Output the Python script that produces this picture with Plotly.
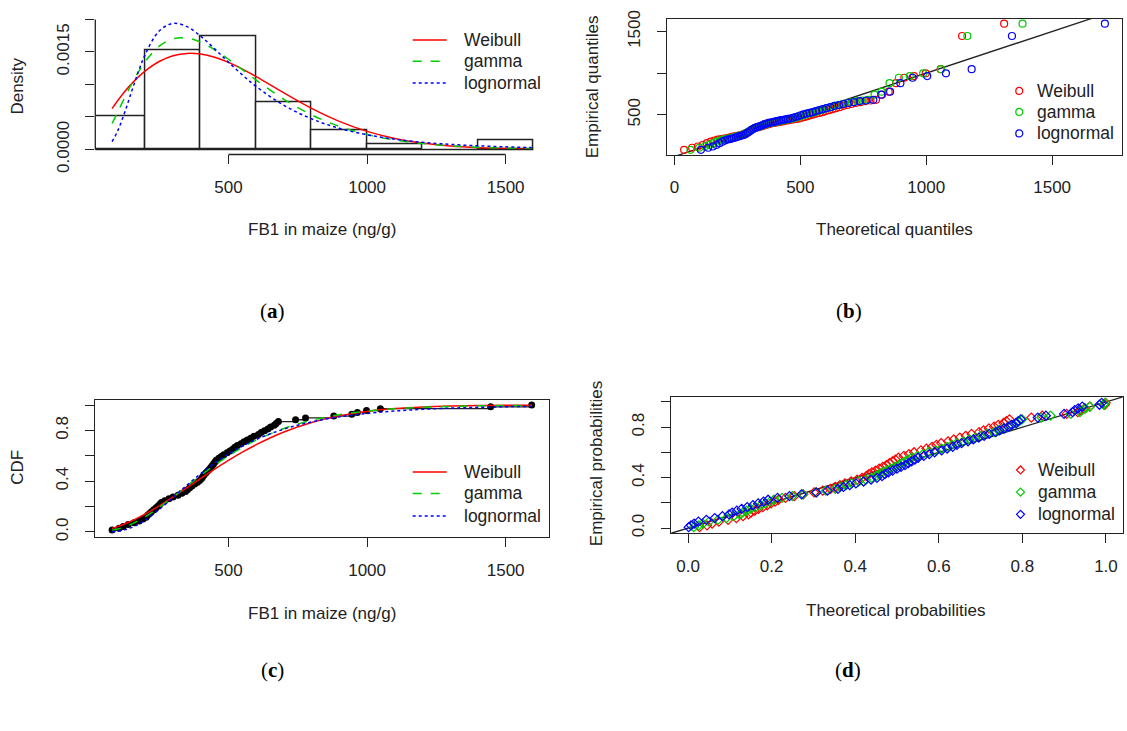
import plotly.graph_objects as go

W, H = 1127, 731
FONT = "Liberation Sans, Arial, sans-serif"
TXT = "#222222"
RED, GREEN, BLUE = "#FF0000", "#00CD00", "#0000FF"

# ---------------- data ----------------
fb1 = [80, 105, 120, 138, 160, 178, 192,
       203, 208, 215, 222, 230, 238, 245, 252, 258, 270, 285, 300, 318, 332, 345, 352, 360, 368, 378, 388, 396,
       403, 407, 412, 418, 424, 430, 436, 441, 446, 451, 456, 465, 474, 483, 495, 505, 515, 523, 532, 545, 556,
       568, 580, 592,
       608, 618, 630, 642, 652, 665, 672, 680, 742, 778,
       880, 945, 965, 998, 1048, 1446, 1594]

ecdf_prob = [.0145, .0290, .0435, .0580, .0725, .0870, .1014, .1159, .1304, .1449, .1594, .1739, .1884, .2029,
             .2174, .2319, .2464, .2609, .2754, .2899, .3043, .3188, .3333, .3478, .3623, .3768, .3913, .4058,
             .4203, .4348, .4493, .4638, .4783, .4928, .5072, .5217, .5362, .5507, .5652, .5797, .5942, .6087,
             .6232, .6377, .6522, .6667, .6812, .6957, .7101, .7246, .7391, .7536, .7681, .7826, .7971, .8116,
             .8261, .8406, .8551, .8696, .8841, .8986, .9130, .9275, .9420, .9565, .9710, .9855, 1.0]

pp_empirical = [.0072, .0217, .0362, .0507, .0652, .0797, .0942, .1087, .1232, .1377, .1522, .1667, .1812, .1957,
                .2101, .2246, .2391, .2536, .2681, .2826, .2971, .3116, .3261, .3406, .3551, .3696, .3841, .3986,
                .4130, .4275, .4420, .4565, .4710, .4855, .5000, .5145, .5290, .5435, .5580, .5725, .5870, .6014,
                .6159, .6304, .6449, .6594, .6739, .6884, .7029, .7174, .7319, .7464, .7609, .7754, .7899, .8043,
                .8188, .8333, .8478, .8623, .8768, .8913, .9058, .9203, .9348, .9493, .9638, .9783, .9928]

qq_weibull = [38.6, 70.2, 93.0, 111.9, 128.8, 144.1, 158.4, 171.9, 184.7, 197.1, 209.1, 220.4, 231.6, 242.6,
              253.3, 263.9, 274.3, 284.6, 294.7, 304.8, 314.8, 324.7, 334.6, 344.4, 354.2, 364.0, 373.9, 383.7,
              393.6, 403.5, 413.4, 423.4, 433.4, 443.6, 453.6, 463.6, 474.3, 484.9, 495.5, 506.4, 517.4, 528.6,
              540.0, 551.6, 563.5, 575.7, 588.1, 600.9, 614.0, 627.6, 641.5, 656.1, 671.1, 686.8, 703.2, 720.4,
              738.6, 757.9, 778.5, 800.6, 824.6, 850.9, 880.1, 913.1, 951.6, 998.0, 1057.4, 1142.5, 1309.4]
qq_gamma = [63.8, 98.5, 120.8, 138.7, 153.9, 167.5, 180.1, 191.7, 202.6, 213.2, 223.4, 233.2, 242.6, 251.9,
            261.0, 269.8, 278.7, 287.5, 296.0, 304.6, 313.0, 321.3, 329.9, 338.2, 346.6, 355.1, 363.5, 372.1,
            380.6, 389.1, 397.8, 406.7, 415.4, 424.5, 433.4, 442.5, 452.0, 461.4, 471.1, 481.0, 491.1, 501.2,
            511.8, 522.5, 533.7, 545.1, 556.7, 569.1, 581.5, 594.3, 607.7, 622.0, 636.9, 652.5, 668.9, 686.1,
            704.6, 724.3, 745.8, 769.1, 794.6, 822.4, 854.4, 891.3, 934.5, 987.8, 1058.5, 1163.4, 1382.4]
qq_lognormal = [105.2, 134.2, 152.4, 166.8, 179.1, 190.2, 200.4, 210.0, 218.9, 227.7, 236.2, 244.4, 252.3, 260.2,
                267.9, 275.5, 283.1, 290.6, 298.2, 305.6, 313.0, 320.4, 328.0, 335.5, 343.1, 350.8, 358.4, 366.3,
                374.1, 382.1, 390.3, 398.6, 406.8, 415.5, 424.1, 432.9, 442.1, 451.3, 460.9, 470.7, 480.8, 491.0,
                501.8, 512.7, 524.2, 536.1, 548.4, 561.3, 574.7, 588.6, 603.2, 618.9, 635.3, 653.0, 671.4, 691.2,
                712.8, 735.9, 761.6, 789.9, 821.6, 856.4, 897.4, 945.8, 1004.0, 1078.3, 1180.4, 1340.4, 1709.4]

pp_weibull = [.0276, .0454, .0577, .0739, .0959, .1157, .1317, .1448, .1509, .1597, .1687, .1791, .1896, .1988,
              .2084, .2165, .2332, .2542, .2757, .3017, .3223, .3414, .3519, .3636, .3754, .3901, .4048, .4165,
              .4268, .4326, .4400, .4487, .4574, .4661, .4746, .4819, .4890, .4962, .5035, .5164, .5286, .5409,
              .5572, .5706, .5838, .5942, .6058, .6222, .6358, .6503, .6645, .6783, .6962, .7071, .7199, .7323,
              .7423, .7549, .7617, .7691, .8214, .8475, .9058, .9323, .9390, .9493, .9614, .9973, .9992]
pp_gamma = [.0140, .0260, .0357, .0502, .0717, .0918, .1091, .1238, .1306, .1403, .1501, .1619, .1741, .1849,
            .1958, .2054, .2250, .2496, .2749, .3058, .3297, .3523, .3643, .3780, .3916, .4086, .4257, .4390,
            .4504, .4570, .4654, .4752, .4848, .4945, .5042, .5122, .5199, .5274, .5352, .5489, .5622, .5754,
            .5926, .6067, .6203, .6310, .6428, .6593, .6730, .6871, .7012, .7148, .7322, .7423, .7542, .7657,
            .7749, .7864, .7925, .7993, .8452, .8674, .9158, .9377, .9430, .9513, .9616, .9948, .9976]
pp_lognormal = [.0017, .0072, .0146, .0248, .0439, .0639, .0823, .0981, .1057, .1168, .1283, .1416, .1554, .1678,
                .1806, .1916, .2142, .2428, .2716, .3070, .3338, .3587, .3719, .3870, .4017, .4201, .4380, .4520,
                .4643, .4713, .4797, .4897, .4999, .5097, .5194, .5272, .5351, .5430, .5506, .5641, .5772, .5901,
                .6068, .6201, .6333, .6435, .6545, .6699, .6825, .6957, .7084, .7207, .7364, .7455, .7562, .7664,
                .7745, .7848, .7903, .7961, .8368, .8562, .8997, .9200, .9251, .9333, .9433, .9843, .9899]

curve_x = [80, 100, 125, 150, 175, 200, 250, 300, 350, 400, 450, 500, 550, 600, 700, 800, 900, 1000, 1100,
           1200, 1300, 1400, 1500, 1594]
dens_weibull = [.000629, .000749, .000887, .001009, .001117, .001210, .001353, .001441, .001477, .001467,
                .001418, .001339, .001237, .001121, .000870, .000632, .000432, .000278, .000169, .0000977,
                .0000535, .0000279, .0000138, .0000069]
dens_gamma = [.000400, .000573, .000793, .001003, .001192, .001355, .001589, .001702, .001714, .001650,
              .001534, .001388, .001228, .001067, .000771, .000532, .000355, .000230, .000146, .0000911,
              .0000559, .0000339, .0000203, .0000124]
dens_lognormal = [.000121, .000282, .000563, .000885, .001198, .001467, .001822, .001940, .001889, .001741,
                  .001547, .001343, .001147, .000969, .000679, .000471, .000325, .000226, .000157, .000110,
                  .0000781, .0000557, .0000401, .0000296]
cdf_weibull = [.0276, .0414, .0619, .0856, .1122, .1413, .2056, .2757, .3489, .4226, .4949, .5640, .6284,
               .6874, .7871, .8620, .9147, .9498, .9718, .9849, .9923, .9962, .9982, .9992]
cdf_gamma = [.0140, .0227, .0396, .0615, .0884, .1197, .1928, .2749, .3609, .4457, .5259, .5997, .6655,
             .7236, .8152, .8796, .9232, .9517, .9704, .9818, .9890, .9934, .9961, .9976]
cdf_lognormal = [.0017, .0056, .0161, .0341, .0602, .0936, .1769, .2718, .3681, .4591, .5414, .6136, .6758,
                 .7286, .8103, .8672, .9066, .9338, .9527, .9660, .9753, .9819, .9867, .9899]

dist_names = ["Weibull", "gamma", "lognormal"]
hist_bin_start, hist_bin_end, hist_bin_size = 0, 1600, 200

dens_ticks = [0, 0.0005, 0.001, 0.0015, 0.002]
dens_ticktext = ["0.0000", "", "", "0.0015", ""]
fb_ticks = [500, 1000, 1500]
qq_xticks = [0, 500, 1000, 1500]
qq_yticks = [500, 1000, 1500]
qq_yticktext = ["500", "", "1500"]
prob_ticks = [0, 0.2, 0.4, 0.6, 0.8, 1.0]
prob_ticktext = ["0.0", "", "0.4", "", "0.8", ""]
prob_xticktext = ["0.0", "0.2", "0.4", "0.6", "0.8", "1.0"]

# ---------------- helpers ----------------
def px_x(p):
    return p / W

def px_y(p):
    return 1 - p / H

def ext(lo, hi, f=0.04):
    d = hi - lo
    return [lo - f * d, hi + f * d]

colors = [RED, GREEN, BLUE]
dashes = ["solid", "dash", "dot"]

fig = go.Figure()

# (a) histogram + densities
fig.add_trace(go.Histogram(
    x=fb1, xbins=dict(start=hist_bin_start, end=hist_bin_end, size=hist_bin_size),
    histnorm="probability density", marker=dict(color="white", line=dict(color=TXT, width=1.5)),
    showlegend=False, xaxis="x", yaxis="y", hoverinfo="skip"))
for name, ys, c, d in zip(dist_names, [dens_weibull, dens_gamma, dens_lognormal], colors, dashes):
    fig.add_trace(go.Scatter(x=curve_x, y=ys, mode="lines", name=name, showlegend=False,
                             line=dict(color=c, dash=d, width=1.5, shape="spline"),
                             xaxis="x", yaxis="y"))

# (b) Q-Q plot
fig.add_trace(go.Scatter(x=[-1e4, 1e4], y=[-1e4, 1e4], mode="lines", line=dict(color=TXT, width=1.3),
                         showlegend=False, xaxis="x2", yaxis="y2"))
for name, xs, c in zip(dist_names, [qq_weibull, qq_gamma, qq_lognormal], colors):
    fig.add_trace(go.Scatter(x=xs, y=sorted(fb1), mode="markers", name=name, showlegend=False,
                             marker=dict(symbol="circle-open", size=7, color=c, line=dict(width=1.2, color=c)),
                             xaxis="x2", yaxis="y2"))

# (c) CDF
fig.add_trace(go.Scatter(x=sorted(fb1), y=ecdf_prob, mode="lines+markers",
                         line=dict(color=TXT, width=1.3, shape="hv"),
                         marker=dict(symbol="circle", size=7, color="black"),
                         showlegend=False, xaxis="x3", yaxis="y3"))
for name, ys, c, d in zip(dist_names, [cdf_weibull, cdf_gamma, cdf_lognormal], colors, dashes):
    fig.add_trace(go.Scatter(x=curve_x, y=ys, mode="lines", name=name, showlegend=False,
                             line=dict(color=c, dash=d, width=1.5, shape="spline"),
                             xaxis="x3", yaxis="y3"))

# (d) P-P plot
fig.add_trace(go.Scatter(x=[-1, 2], y=[-1, 2], mode="lines", line=dict(color=TXT, width=1.3),
                         showlegend=False, xaxis="x4", yaxis="y4"))
for name, xs, c in zip(dist_names, [pp_weibull, pp_gamma, pp_lognormal], colors):
    fig.add_trace(go.Scatter(x=xs, y=pp_empirical, mode="markers", name=name, showlegend=False,
                             marker=dict(symbol="diamond-open", size=7, color=c, line=dict(width=1.2, color=c)),
                             xaxis="x4", yaxis="y4"))

# ---------------- axes ----------------
tickfont = dict(family=FONT, size=17, color=TXT)
base = dict(showgrid=False, zeroline=False, ticks="outside", ticklen=9, tickwidth=1.3, tickcolor=TXT,
            tickfont=tickfont, linecolor=TXT, linewidth=1.3, fixedrange=True)
xbase = dict(base, ticklabelstandoff=8)
ybase = dict(base, tickangle=-90, ticklabelstandoff=10)

data_rng = ext(min(fb1), max(fb1))
dens_top = max(max(dens_lognormal), max(dens_gamma), max(dens_weibull))
qq_all = qq_weibull + qq_gamma + qq_lognormal

layout = dict(
    width=W, height=H, autosize=False, margin=dict(l=0, r=0, t=0, b=0),
    paper_bgcolor="white", plot_bgcolor="white", bargap=0, showlegend=False,
    font=dict(family=FONT, size=17, color=TXT),
    xaxis=dict(xbase, domain=[px_x(95.3), px_x(548.5)], range=data_rng, anchor="y",
               tickvals=fb_ticks, showline=False),
    yaxis=dict(ybase, domain=[px_y(151.9), px_y(10.7)], range=ext(0, dens_top), anchor="x",
               tickvals=dens_ticks, ticktext=dens_ticktext, showline=False),
    xaxis2=dict(xbase, domain=[px_x(667.3), px_x(1121.7)], range=ext(min(qq_all), max(qq_all)), anchor="y2",
                tickvals=qq_xticks, showline=True, mirror=True),
    yaxis2=dict(ybase, domain=[px_y(152.3), px_y(11)], range=data_rng, anchor="x2",
                tickvals=qq_yticks, ticktext=qq_yticktext, showline=True, mirror=True),
    xaxis3=dict(xbase, domain=[px_x(95.3), px_x(548.5)], range=data_rng, anchor="y3",
                tickvals=fb_ticks, showline=True, mirror=True),
    yaxis3=dict(ybase, domain=[px_y(548.5), px_y(406.4)], range=ext(0, 1), anchor="x3",
                tickvals=prob_ticks, ticktext=prob_ticktext, showline=True, mirror=True),
    xaxis4=dict(xbase, domain=[px_x(671.3), px_x(1122.7)], range=ext(0, 1), anchor="y4",
                tickvals=prob_ticks, ticktext=prob_xticktext, showline=True, mirror=True),
    yaxis4=dict(ybase, domain=[px_y(544.5), px_y(403.3)], range=ext(0, 1), anchor="x4",
                tickvals=prob_ticks, ticktext=prob_ticktext, showline=True, mirror=True),
)
fig.update_layout(**layout)

# axis lines of panel (a) span only the tick range (R style)
fig.add_shape(type="line", xref="x domain", x0=0, x1=0, yref="y", y0=dens_ticks[0], y1=dens_ticks[-1],
              line=dict(color=TXT, width=1.3))
fig.add_shape(type="line", xref="x", x0=fb_ticks[0], x1=fb_ticks[-1], yref="y domain", y0=0, y1=0,
              line=dict(color=TXT, width=1.3))
# histogram baseline (covers the empty bin)
fig.add_shape(type="line", xref="x", x0=hist_bin_start, x1=hist_bin_end, yref="y", y0=0, y1=0,
              line=dict(color=TXT, width=1.5))

# ---------------- text ----------------
def text(t, x, y, angle=0, anchor="center", size=17):
    fig.add_annotation(text=t, x=px_x(x), y=px_y(y), xref="paper", yref="paper", showarrow=False,
                       textangle=angle, font=dict(family=FONT, size=size, color=TXT),
                       xanchor=anchor, yanchor="middle", borderpad=0)

text("Density", 18, 81.5, -90)
text("FB1 in maize (ng/g)", 322, 230)
text("Empirical quantiles", 592.5, 81.7, -90)
text("Theoretical quantiles", 894, 230)
text("CDF", 18, 476.7, -90)
text("FB1 in maize (ng/g)", 322, 628.3)
text("Empirical probabilities", 596, 473, -90)
text("Theoretical probabilities", 896, 625)

# legends (R-style keys)
def line_legend(x0, x1, xt, rows):
    for name, c, d, y in zip(dist_names, colors, dashes, rows):
        fig.add_shape(type="line", xref="paper", yref="paper", x0=px_x(x0), x1=px_x(x1),
                      y0=px_y(y), y1=px_y(y), line=dict(color=c, dash=d, width=1.5))
        text(name, xt, y, anchor="left", size=17.5)

def marker_legend(xc, xt, rows, diamond):
    for name, c, y in zip(dist_names, colors, rows):
        if diamond:
            fig.add_shape(type="path", xref="paper", yref="paper", xsizemode="pixel", ysizemode="pixel",
                          xanchor=px_x(xc), yanchor=px_y(y), path="M -4,0 L 0,4 L 4,0 L 0,-4 Z",
                          line=dict(color=c, width=1.2))
        else:
            fig.add_shape(type="circle", xref="paper", yref="paper", xsizemode="pixel", ysizemode="pixel",
                          xanchor=px_x(xc), yanchor=px_y(y), x0=-3.5, x1=3.5, y0=-3.5, y1=3.5,
                          line=dict(color=c, width=1.2))
        text(name, xt, y, anchor="left", size=17.5)

line_legend(412.7, 446.7, 462.7, [33.3, 55.3, 77.7])
marker_legend(1019.3, 1036, [86, 107.8, 130], diamond=False)
line_legend(412.7, 446.7, 462.7, [481, 503.3, 526.7])
marker_legend(1020.5, 1037, [479, 502, 525], diamond=True)

# panel labels
for lab, x, y in [("a", 272, 314), ("b", 849, 314), ("c", 272, 686), ("d", 848, 686)]:
    fig.add_annotation(text=f"(<b>{lab}</b>)", x=px_x(x), y=px_y(y), xref="paper", yref="paper",
                       showarrow=False, font=dict(family="Liberation Serif, Times New Roman, serif",
                                                  size=21, color="black"),
                       xanchor="center", yanchor="middle")

fig.write_html("out.html",
               post_script="document.body.style.margin='0';document.body.style.overflow='hidden';")
